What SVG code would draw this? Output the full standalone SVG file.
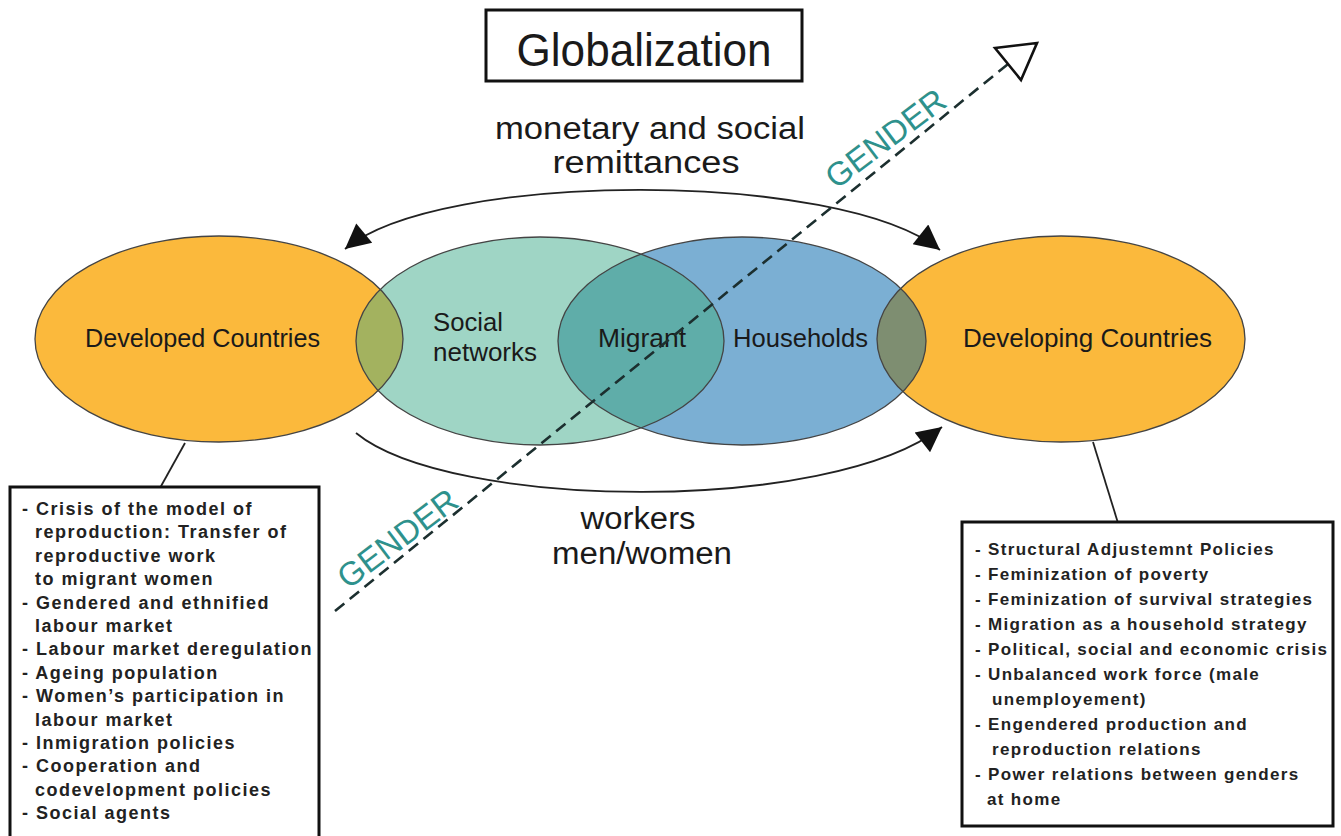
<svg xmlns="http://www.w3.org/2000/svg" width="1341" height="836" viewBox="0 0 1341 836">
<style>
.lbl{font-family:"Liberation Sans",Arial,sans-serif;fill:#1a1a1a}
.big{font-size:31px;text-anchor:middle}
.node{font-size:26px}
.gender{font-family:"Liberation Sans",Arial,sans-serif;font-size:33px;fill:#2e918c}
.box{fill:#fff;stroke:#111;stroke-width:3}
.list{font-family:"Liberation Sans",Arial,sans-serif;font-weight:bold;fill:#222}
.ll{font-size:18px;letter-spacing:1.5px}
.lr{font-size:17px;letter-spacing:1.33px}
.outline{fill:none;stroke:#444;stroke-width:1.3}
.conn{fill:none;stroke:#222;stroke-width:1.8}
</style>
<defs>
<marker id="arr" viewBox="0 0 10 10" refX="10" refY="5" markerWidth="27" markerHeight="25" markerUnits="userSpaceOnUse" orient="auto-start-reverse">
<path d="M0,0 L10,5 L0,10 z" fill="#111"/>
</marker>
<clipPath id="clipA"><ellipse cx="219" cy="339" rx="184" ry="103"/></clipPath>
<clipPath id="clipB"><ellipse cx="540" cy="341" rx="184" ry="104"/></clipPath>
<clipPath id="clipD"><ellipse cx="1061" cy="339" rx="184" ry="103"/></clipPath>
</defs>
<rect width="1341" height="836" fill="#fff"/>

<g id="globalization">
<rect x="486" y="10" width="316" height="71" class="box" stroke-width="3.5"/>
<text x="644" y="66" class="lbl" font-size="46" text-anchor="middle" textLength="255" lengthAdjust="spacingAndGlyphs">Globalization</text>
</g>

<g id="ellipses-fill">
<ellipse cx="219" cy="339" rx="184" ry="103" fill="#FBB93C"/>
<ellipse cx="540" cy="341" rx="184" ry="104" fill="#9FD5C5"/>
<ellipse cx="742" cy="341" rx="184" ry="104" fill="#7BAFD3"/>
<ellipse cx="1061" cy="339" rx="184" ry="103" fill="#FBB93C"/>
<ellipse cx="540" cy="341" rx="184" ry="104" fill="#A3B25F" clip-path="url(#clipA)"/>
<ellipse cx="742" cy="341" rx="184" ry="104" fill="#5FADA9" clip-path="url(#clipB)"/>
<ellipse cx="742" cy="341" rx="184" ry="104" fill="#7E8E71" clip-path="url(#clipD)"/>
</g>

<g id="developed-countries">
<ellipse cx="219" cy="339" rx="184" ry="103" class="outline"/>
<text x="85" y="347" class="lbl node" textLength="235" lengthAdjust="spacingAndGlyphs">Developed Countries</text>
</g>
<g id="social-networks">
<ellipse cx="540" cy="341" rx="184" ry="104" class="outline"/>
<text x="433" y="331" class="lbl node" textLength="70" lengthAdjust="spacingAndGlyphs">Social</text>
<text x="433" y="361" class="lbl node" textLength="104" lengthAdjust="spacingAndGlyphs">networks</text>
</g>
<g id="households">
<ellipse cx="742" cy="341" rx="184" ry="104" class="outline"/>
<text x="733" y="347" class="lbl node" textLength="135" lengthAdjust="spacingAndGlyphs">Households</text>
</g>
<g id="migrant">
<text x="598" y="347" class="lbl node" textLength="88" lengthAdjust="spacingAndGlyphs">Migrant</text>
</g>
<g id="developing-countries">
<ellipse cx="1061" cy="339" rx="184" ry="103" class="outline"/>
<text x="963" y="347" class="lbl node" textLength="249" lengthAdjust="spacingAndGlyphs">Developing Countries</text>
</g>

<g id="connectors">
<path class="conn" d="M345,249 C440,170 840,170 940,250" marker-start="url(#arr)" marker-end="url(#arr)"/>
<path class="conn" d="M356,433 C450,510 830,515 942,427" marker-end="url(#arr)"/>
<line class="conn" x1="185" y1="443" x2="160" y2="488" stroke-width="2.5"/>
<line class="conn" x1="1093" y1="442" x2="1118" y2="523" stroke-width="2.5"/>
<line x1="335" y1="611" x2="1008" y2="64" stroke="#1c2f2f" stroke-width="2.6" stroke-dasharray="12 7"/>
<polygon points="995,48 1037,43 1021,80" fill="#fff" stroke="#111" stroke-width="2.6" stroke-linejoin="miter"/>
</g>

<g id="labels">
<text x="650" y="139" class="lbl big" textLength="310" lengthAdjust="spacingAndGlyphs">monetary and social</text>
<text x="646" y="173" class="lbl big" textLength="187" lengthAdjust="spacingAndGlyphs">remittances</text>
<text x="638" y="529" class="lbl big" textLength="115" lengthAdjust="spacingAndGlyphs">workers</text>
<text x="642" y="564" class="lbl big" textLength="180" lengthAdjust="spacingAndGlyphs">men/women</text>
<text class="gender" transform="translate(836,190) rotate(-37)">GENDER</text>
<text class="gender" transform="translate(348,590) rotate(-37)">GENDER</text>
</g>

<g id="developed-factors">
<rect x="10" y="487" width="309" height="370" class="box"/>
<text class="list ll" x="22" y="515">- Crisis of the model of</text>
<text class="list ll" x="35" y="538.4">reproduction: Transfer of</text>
<text class="list ll" x="35" y="561.8">reproductive work</text>
<text class="list ll" x="35" y="585.2">to migrant women</text>
<text class="list ll" x="22" y="608.6">- Gendered and ethnified</text>
<text class="list ll" x="35" y="632">labour market</text>
<text class="list ll" x="22" y="655.4">- Labour market deregulation</text>
<text class="list ll" x="22" y="678.8">- Ageing population</text>
<text class="list ll" x="22" y="702.2">- Women’s participation in</text>
<text class="list ll" x="35" y="725.6">labour market</text>
<text class="list ll" x="22" y="749">- Inmigration policies</text>
<text class="list ll" x="22" y="772.4">- Cooperation and</text>
<text class="list ll" x="35" y="795.8">codevelopment policies</text>
<text class="list ll" x="22" y="819.2">- Social agents</text>
</g>

<g id="developing-factors">
<rect x="962" y="522" width="371" height="304" class="box"/>
<text class="list lr" x="975" y="555">- Structural Adjustemnt Policies</text>
<text class="list lr" x="975" y="580">- Feminization of poverty</text>
<text class="list lr" x="975" y="605">- Feminization of survival strategies</text>
<text class="list lr" x="975" y="630">- Migration as a household strategy</text>
<text class="list lr" x="975" y="655">- Political, social and economic crisis</text>
<text class="list lr" x="975" y="680">- Unbalanced work force (male</text>
<text class="list lr" x="992" y="705">unemployement)</text>
<text class="list lr" x="975" y="730">- Engendered production and</text>
<text class="list lr" x="992" y="755">reproduction relations</text>
<text class="list lr" x="975" y="780">- Power relations between genders</text>
<text class="list lr" x="987" y="805">at home</text>
</g>
</svg>
